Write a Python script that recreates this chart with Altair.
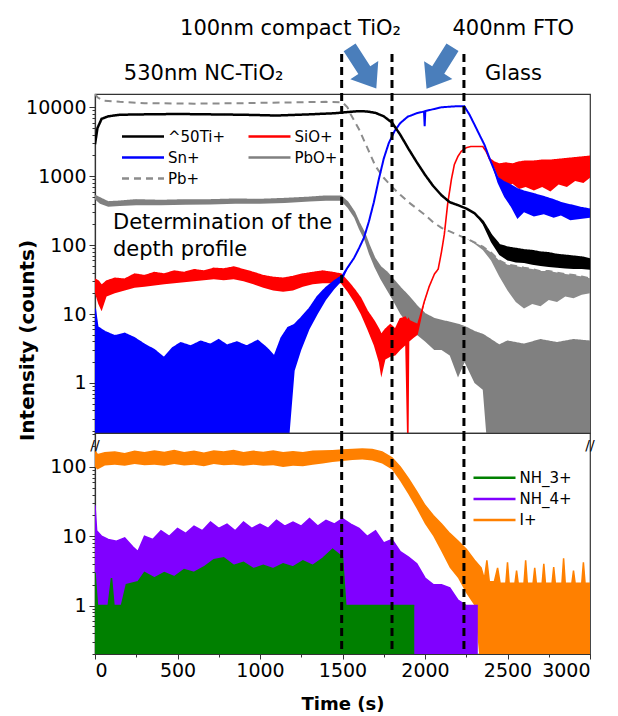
import altair as alt
import pandas as pd

# ---------------- values ----------------
BOUNDARIES = [1495, 1800, 2236]          # dashed interface lines (s)

TOP_SERIES = ["^50Ti+", "SiO+", "Sn+", "PbO+", "Pb+"]          # legend order (row-major, 2 cols)
TOP_COLORS = ["#000000", "#ff0000", "#0000ff", "#808080", "#8c8c8c"]
TOP_DASHES = [[1, 0], [1, 0], [1, 0], [1, 0], [7, 5]]
TOP_DRAW = ["PbO+", "Pb+", "SiO+", "Sn+", "^50Ti+"]            # back to front
TOP_WIDTH = {"PbO+": 2, "Pb+": 2, "SiO+": 1.6, "Sn+": 2, "^50Ti+": 2.5}

BOT_SERIES = ["NH_3+", "NH_4+", "I+"]
BOT_COLORS = ["#008000", "#8000ff", "#ff8000"]
BOT_DRAW = ["I+", "NH_4+", "NH_3+"]

# (time s, upper counts, lower counts)
TI = [(0, 2900, 2900), (15, 5000, 5000), (40, 6800, 6800), (80, 7400, 7400),
      (150, 7800, 7800), (300, 7900, 7900), (500, 8000, 8000), (700, 7900, 7900),
      (900, 7800, 7800), (1100, 7600, 7600), (1300, 7900, 7900), (1450, 8200, 8200),
      (1500, 8400, 8400), (1550, 8600, 8600), (1600, 8800, 8800), (1650, 8700, 8700),
      (1700, 8300, 8300), (1750, 7400, 7400), (1800, 6000, 6000), (1850, 4000, 4000),
      (1900, 2500, 2500), (1950, 1600, 1600), (2000, 1050, 1050), (2050, 720, 720),
      (2100, 530, 530), (2150, 420, 420), (2200, 380, 380), (2250, 340, 340),
      (2300, 290, 290), (2350, 220, 200), (2400, 140, 110), (2450, 100, 72),
      (2500, 92, 60), (2550, 88, 56), (2600, 84, 55), (2650, 82, 52), (2700, 78, 50),
      (2750, 76, 48), (2800, 72, 47), (2850, 70, 46), (2900, 68, 45), (2950, 66, 45),
      (3000, 62, 44)]

SN = [(0, 12, 0.1), (15, 6.5, 0.1), (60, 5.5, 0.1), (120, 4.8, 0.1), (180, 5.2, 0.1),
      (237, 4.5, 0.1), (300, 3.6, 0.1), (360, 3.0, 0.1), (418, 2.3, 0.1), (470, 3.2, 0.1),
      (520, 3.8, 0.1), (580, 3.4, 0.1), (640, 4.0, 0.1), (700, 3.6, 0.1), (750, 4.2, 0.1),
      (800, 3.5, 0.1), (860, 3.9, 0.1), (920, 3.4, 0.1), (986, 4.1, 0.1), (1040, 3.2, 0.1),
      (1087, 2.4, 0.1), (1130, 4.5, 0.1), (1170, 6.3, 0.1), (1210, 7.0, 1.5),
      (1250, 8.8, 3.0), (1300, 12, 6), (1350, 18, 10), (1400, 24, 16), (1450, 30, 23),
      (1500, 36, 31), (1530, 47, 45), (1570, 65, 65), (1600, 90, 90), (1630, 128, 128),
      (1660, 220, 220), (1690, 420, 420), (1720, 900, 900), (1750, 1800, 1800),
      (1780, 3000, 3000), (1815, 4500, 4500), (1850, 5900, 5900), (1895, 7300, 7300),
      (1950, 8200, 8200), (1994, 8700, 8700), (1998, 5300, 5300), (2002, 8800, 8800),
      (2050, 9400, 9400), (2100, 10000, 10000), (2170, 10300, 10300), (2238, 10400, 10400),
      (2270, 7800, 7800), (2300, 5600, 5600), (2330, 4000, 4000), (2360, 2870, 2870),
      (2400, 1600, 1600), (2440, 950, 800), (2480, 820, 500), (2520, 740, 360),
      (2560, 650, 240), (2600, 600, 300), (2660, 550, 260), (2720, 500, 280),
      (2780, 450, 250), (2824, 410, 270), (2880, 380, 230), (2940, 350, 240),
      (3000, 330, 250)]

SIO = [(0, 32, 20), (20, 30, 14), (40, 26, 11), (70, 30, 18), (120, 33, 20), (180, 32, 22),
       (240, 38, 24), (300, 36, 25), (360, 40, 26), (420, 38, 27), (480, 42, 28),
       (540, 40, 29), (600, 44, 30), (660, 42, 31), (720, 46, 32), (780, 45, 31),
       (840, 48, 32), (900, 44, 30), (960, 40, 27), (1020, 36, 24), (1080, 34, 22),
       (1140, 33, 21), (1200, 35, 22), (1260, 38, 25), (1320, 40, 27), (1380, 42, 28),
       (1440, 40, 28), (1490, 38, 28), (1530, 30, 21), (1570, 23, 15), (1610, 17, 10),
       (1650, 11, 6), (1690, 8, 3.5), (1720, 6, 2), (1735, 5, 1.2), (1760, 6, 2.2),
       (1790, 7, 2.4), (1820, 6, 2.5), (1850, 8.5, 3), (1880, 9, 3.5), (1893, 8, 0.1),
       (1900, 8.5, 0.1), (1905, 8, 4), (1930, 7.5, 4.5), (1956, 7, 5), (1975, 10, 8),
       (1995, 15, 14), (2025, 25, 25), (2057, 38, 38), (2080, 45, 45), (2100, 80, 80),
       (2117, 143, 143), (2137, 390, 390), (2160, 900, 900), (2178, 1480, 1480),
       (2200, 1950, 1950), (2220, 2300, 2300), (2250, 2600, 2600), (2280, 2700, 2700),
       (2350, 2700, 2700), (2370, 2300, 2300), (2390, 1800, 1700), (2420, 1600, 1300),
       (2450, 1500, 900), (2490, 1550, 700), (2530, 1500, 780), (2570, 1600, 650),
       (2610, 1650, 700), (2660, 1650, 620), (2710, 1700, 700), (2760, 1700, 600),
       (2810, 1750, 760), (2860, 1800, 700), (2910, 1850, 850), (2960, 1900, 800),
       (3000, 1950, 950)]

PBO = [(0, 520, 460), (30, 480, 400), (80, 420, 360), (150, 430, 370), (250, 450, 380),
       (400, 440, 380), (550, 450, 385), (700, 450, 390), (850, 460, 400), (1000, 455, 400),
       (1150, 470, 410), (1300, 490, 430), (1400, 510, 440), (1490, 510, 440),
       (1530, 420, 350), (1571, 300, 250), (1600, 210, 170), (1632, 150, 120),
       (1660, 100, 75), (1693, 65, 48), (1730, 48, 32), (1770, 40, 22), (1804, 32, 16),
       (1850, 24, 10), (1900, 18, 7), (1950, 13, 5), (2000, 10, 4), (2056, 8.5, 3),
       (2100, 8, 3), (2150, 7.5, 2.5), (2200, 7, 1.2), (2240, 6.5, 2), (2300, 5.5, 1.0),
       (2350, 5, 0.8), (2380, 4.5, 0.1), (2450, 3.5, 0.1), (2500, 4, 0.1), (2600, 3.6, 0.1),
       (2700, 4.2, 0.1), (2800, 3.8, 0.1), (2900, 4.2, 0.1), (3000, 4, 0.1)]

PB = [(0, 15500, 15500), (15, 14000, 14000), (50, 12500, 12500), (150, 12000, 12000),
      (300, 11500, 11500), (600, 11300, 11300), (900, 11500, 11500), (1200, 11800, 11800),
      (1400, 12000, 12000), (1500, 11800, 11800), (1530, 10000, 10000), (1551, 7800, 7800),
      (1600, 4800, 4800), (1650, 2600, 2600), (1700, 1400, 1400), (1750, 950, 950),
      (1800, 700, 700), (1850, 540, 540), (1900, 420, 420), (1950, 340, 340),
      (2000, 275, 275), (2050, 215, 215), (2100, 178, 178), (2150, 158, 158),
      (2200, 140, 140), (2250, 125, 125), (2300, 110, 105), (2350, 95, 85), (2400, 78, 60),
      (2450, 60, 35), (2500, 52, 22), (2550, 50, 15), (2600, 47, 12), (2650, 45, 14),
      (2700, 42, 13), (2750, 42, 16), (2800, 40, 15), (2850, 38, 18), (2900, 37, 17),
      (2950, 35, 19), (3000, 33, 20)]

IP = [(0, 170, 100), (15, 150, 92), (60, 160, 105), (120, 165, 108), (180, 155, 104),
      (240, 168, 110), (300, 160, 106), (360, 170, 108), (420, 162, 104), (480, 172, 110),
      (540, 160, 105), (600, 168, 108), (660, 158, 102), (720, 170, 110), (780, 164, 106),
      (840, 172, 108), (900, 160, 104), (960, 168, 108), (1020, 162, 104), (1080, 170, 106),
      (1140, 160, 100), (1200, 166, 104), (1260, 160, 102), (1320, 168, 108),
      (1380, 170, 112), (1440, 172, 118), (1500, 175, 122), (1560, 178, 126),
      (1620, 182, 128), (1680, 178, 124), (1740, 165, 112), (1800, 135, 92),
      (1850, 100, 62), (1900, 68, 40), (1950, 44, 25), (2000, 28, 15), (2050, 20, 10),
      (2100, 15, 6), (2150, 11, 3.5), (2200, 8.5, 2.5), (2250, 6.5, 1.5), (2300, 4.5, 1.0),
      (2340, 3.5, 0.1), (2360, 2.4, 0.1), (2375, 4.5, 0.1), (2390, 2.2, 0.1),
      (2420, 2.2, 0.1), (2440, 3.5, 0.1), (2455, 2.1, 0.1), (2490, 2.1, 0.1),
      (2500, 4.2, 0.1), (2510, 2.1, 0.1), (2545, 2.1, 0.1), (2555, 3.2, 0.1),
      (2565, 2.1, 0.1), (2600, 2.1, 0.1), (2610, 4.5, 0.1), (2620, 2.1, 0.1),
      (2655, 2.1, 0.1), (2665, 3.5, 0.1), (2675, 2.1, 0.1), (2710, 2.1, 0.1),
      (2720, 4.0, 0.1), (2730, 2.1, 0.1), (2770, 2.1, 0.1), (2780, 3.6, 0.1),
      (2790, 2.1, 0.1), (2830, 2.1, 0.1), (2840, 4.8, 0.1), (2850, 2.1, 0.1),
      (2890, 2.1, 0.1), (2900, 3.2, 0.1), (2910, 2.1, 0.1), (2950, 2.1, 0.1),
      (2960, 4.2, 0.1), (2970, 2.1, 0.1), (3000, 2.1, 0.1)]

NH4 = [(0, 28, 0.1), (10, 12, 0.1), (40, 10, 0.1), (80, 9, 0.1), (130, 8.5, 0.1),
       (180, 9.5, 0.1), (230, 7, 0.1), (260, 6, 0.1), (300, 10, 0.1), (350, 9, 0.1),
       (400, 12, 0.1), (450, 10, 0.1), (500, 13, 0.1), (550, 11, 0.1), (600, 14, 0.1),
       (650, 12, 0.1), (700, 16, 0.1), (750, 13, 0.1), (800, 15, 0.1), (850, 12, 0.1),
       (900, 16, 0.1), (950, 13, 0.1), (1000, 15, 0.1), (1050, 13, 0.1), (1100, 17, 0.1),
       (1150, 14, 0.1), (1200, 16, 0.1), (1250, 14, 0.1), (1300, 18, 0.1), (1350, 14, 0.1),
       (1400, 17, 0.1), (1450, 15, 0.1), (1500, 18, 0.1), (1550, 15, 0.1), (1600, 13, 0.1),
       (1650, 10, 0.1), (1700, 12, 0.1), (1750, 8, 0.1), (1800, 9, 0.1), (1850, 6, 0.1),
       (1900, 5, 0.1), (1950, 4, 0.1), (2000, 2.5, 0.1), (2050, 2, 0.1), (2100, 2, 0.1),
       (2150, 1.8, 0.1), (2200, 1.2, 0.1), (2250, 1, 0.1), (2320, 1, 0.1)]

NH3 = [(0, 3, 0.1), (15, 1, 0.1), (80, 1, 0.1), (100, 2.5, 0.1), (115, 1, 0.1),
       (160, 1, 0.1), (190, 2, 0.1), (260, 2.2, 0.1), (300, 3, 0.1), (360, 2.5, 0.1),
       (420, 3, 0.1), (480, 2.6, 0.1), (540, 3.3, 0.1), (600, 3, 0.1), (660, 3.6, 0.1),
       (720, 4.6, 0.1), (780, 4.9, 0.1), (840, 3.8, 0.1), (900, 4.2, 0.1), (960, 3.4, 0.1),
       (1020, 3.8, 0.1), (1080, 3.4, 0.1), (1140, 4.0, 0.1), (1200, 3.6, 0.1),
       (1260, 4.4, 0.1), (1320, 3.8, 0.1), (1380, 4.8, 0.1), (1440, 6.5, 0.1),
       (1500, 5, 0.1), (1520, 1, 0.1), (1935, 1, 0.1)]

LAYER_TEXT_UPPER = ["100nm compact TiO₂", "400nm FTO"]
LAYER_T_UPPER = [1185, 2535]
LAYER_TEXT_LOWER = ["530nm NC-TiO₂", "Glass"]
LAYER_T_LOWER = [658, 2536]
ARROW_T = [1624, 2088]
ARROW_ANGLE = [327, 32]
NOTE = "Determination of the\ndepth profile"

# ---------------- build ----------------
def frame(rows, name):
    return pd.DataFrame([{"series": name, "t": t, "hi": hi, "lo": lo} for t, hi, lo in rows])

top_df = pd.concat([frame(TI, "^50Ti+"), frame(SIO, "SiO+"), frame(SN, "Sn+"),
                    frame(PBO, "PbO+"), frame(PB, "Pb+")], ignore_index=True)
bot_df = pd.concat([frame(NH3, "NH_3+"), frame(NH4, "NH_4+"), frame(IP, "I+")],
                   ignore_index=True)

W, H_TOP, H_BOT = 495, 339, 221
FONT = "DejaVu Sans"
X_SCALE = alt.Scale(domain=[0, 3000], nice=False, zero=False)
Y_TOP = alt.Scale(type="log", domain=[0.188, 15600], nice=False)
Y_BOT = alt.Scale(type="log", domain=[0.2, 309], nice=False)

MAJOR = "abs(log(datum.value)/LN10 - round(log(datum.value)/LN10)) < 0.001"
TOP_TICKS = [m * 10 ** e for e in range(-1, 5) for m in range(1, 10) if 0.188 <= m * 10 ** e <= 15600]
BOT_TICKS = [m * 10 ** e for e in range(-1, 3) for m in range(1, 10) if 0.2 <= m * 10 ** e <= 309]
X_TICKS = list(range(0, 3001, 250))


def y_axis(values, title=None):
    kw = dict(values=values, labelExpr=f"({MAJOR}) ? format(datum.value, 'd') : ''",
              tickSize={"condition": {"test": MAJOR, "value": 6}, "value": 3},
              labelOverlap=False, labelFlush=False, grid=False, labelPadding=3)
    if title:
        kw.update(title=title, titleX=-68, titleY=246, titleAngle=270, titleAlign="center",
                  titleBaseline="middle", titleFont=FONT, titleFontSize=20, titleFontWeight="bold")
    else:
        kw.update(title=None)
    return alt.Axis(**kw)


TOP_Y_AXIS = y_axis(TOP_TICKS, "Intensity (counts)")
BOT_Y_AXIS = y_axis(BOT_TICKS)
TOP_X_AXIS = alt.Axis(labels=False, ticks=False, domain=False, title=None, grid=False)
BOT_X_AXIS = alt.Axis(values=X_TICKS, title="Time (s)", grid=False,
                      labelExpr="datum.value % 500 == 0 ? format(datum.value, 'd') : ''",
                      tickSize={"condition": {"test": "datum.value % 500 == 0", "value": 5}, "value": 3},
                      labelOverlap=False, labelPadding=2, titleFont=FONT, titleFontSize=18,
                      titleFontWeight="bold", titlePadding=15)

top_color = alt.Scale(domain=TOP_SERIES, range=TOP_COLORS)
top_dash = alt.Scale(domain=TOP_SERIES, range=TOP_DASHES)
bot_color = alt.Scale(domain=BOT_SERIES, range=BOT_COLORS)


def series_layers(df, order, xaxis, yscale, yaxis, cscale, dscale=None, widths=None):
    out = []
    for name in order:
        base = alt.Chart(df).transform_filter(alt.datum.series == name)
        x = alt.X("t:Q", scale=X_SCALE, axis=xaxis)
        col = alt.Color("series:N", scale=cscale, legend=None)
        area = base.mark_area(clip=True, opacity=1).encode(
            x=x, y=alt.Y("lo:Q", scale=yscale, axis=yaxis), y2="hi:Q", color=col)
        enc = dict(x=x, y=alt.Y("hi:Q", scale=yscale, axis=yaxis), color=col)
        if dscale is not None:
            enc["strokeDash"] = alt.StrokeDash("series:N", scale=dscale, legend=None)
        sw = widths[name] if widths else 1.5
        line = base.mark_line(clip=True, strokeWidth=sw).encode(**enc)
        out += [area, line]
    return out


def legend_layers(names, cscale, dscale, x_start, col_step, y_start, row_step, ncols):
    rows = []
    for i, n in enumerate(names):
        c, r = i % ncols, i // ncols
        x0 = x_start + c * col_step
        rows.append({"series": n, "x0": x0, "x1": x0 + 42, "xt": x0 + 46,
                     "y": y_start + r * row_step})
    ldf = pd.DataFrame(rows)
    enc = dict(x=alt.X("x0:Q", scale=None, axis=None), x2="x1:Q",
               y=alt.Y("y:Q", scale=None, axis=None),
               color=alt.Color("series:N", scale=cscale, legend=None))
    if dscale is not None:
        enc["strokeDash"] = alt.StrokeDash("series:N", scale=dscale, legend=None)
    sym = alt.Chart(ldf).mark_rule(strokeWidth=2.5).encode(**enc)
    lab = alt.Chart(ldf).mark_text(font=FONT, fontSize=15, color="black", align="left",
                                   baseline="middle").encode(
        x=alt.X("xt:Q", scale=None, axis=None), y=alt.Y("y:Q", scale=None, axis=None),
        text="series:N")
    return [sym, lab]


bdf = pd.DataFrame({"t": BOUNDARIES})

# ---- top panel ----
top_layers = series_layers(top_df, TOP_DRAW, TOP_X_AXIS, Y_TOP, TOP_Y_AXIS,
                           top_color, top_dash, TOP_WIDTH)
top_leg = legend_layers(TOP_SERIES, top_color, top_dash, 27, 126.5, 42.5, 21, 2)
top_rules = alt.Chart(bdf).mark_rule(color="black", strokeWidth=3, strokeDash=[8, 5]).encode(
    x=alt.X("t:Q", scale=X_SCALE, axis=TOP_X_AXIS), y=alt.value(-40), y2=alt.value(H_TOP))
up_txt = alt.Chart(pd.DataFrame({"t": LAYER_T_UPPER, "label": LAYER_TEXT_UPPER})).mark_text(
    font=FONT, fontSize=21, color="black", baseline="middle", align="center").encode(
    x=alt.X("t:Q", scale=X_SCALE, axis=TOP_X_AXIS), y=alt.value(-65), text="label:N")
lo_txt = alt.Chart(pd.DataFrame({"t": LAYER_T_LOWER, "label": LAYER_TEXT_LOWER})).mark_text(
    font=FONT, fontSize=21, color="black", baseline="middle", align="center").encode(
    x=alt.X("t:Q", scale=X_SCALE, axis=TOP_X_AXIS), y=alt.value(-20), text="label:N")
ARROW_PATH = "M -0.29 -1 L 0.29 -1 L 0.29 0.1 L 0.68 0.1 L 0 1 L -0.68 0.1 L -0.29 0.1 Z"
arrows = alt.Chart(pd.DataFrame({"t": ARROW_T, "ang": ARROW_ANGLE})).mark_point(
    shape=ARROW_PATH, filled=True, color="#4a7ebb", opacity=1, size=2401, strokeWidth=0).encode(
    x=alt.X("t:Q", scale=X_SCALE, axis=TOP_X_AXIS), y=alt.value(-26),
    angle=alt.Angle("ang:Q", scale=None))
note = alt.Chart(pd.DataFrame({"label": [NOTE]})).mark_text(
    font=FONT, fontSize=21, color="black", align="left", baseline="top",
    lineBreak="\n", lineHeight=27).encode(x=alt.value(18), y=alt.value(118), text="label:N")

top = alt.layer(*top_layers, top_rules, *top_leg, up_txt, lo_txt, arrows, note).properties(
    width=W, height=H_TOP)

# ---- bottom panel ----
bot_layers = series_layers(bot_df, BOT_DRAW, BOT_X_AXIS, Y_BOT, BOT_Y_AXIS, bot_color)
bot_leg = legend_layers(BOT_SERIES, bot_color, None, 378.5, 0, 44.7, 21.2, 1)
bot_rules = alt.Chart(bdf).mark_rule(color="black", strokeWidth=3, strokeDash=[8, 5]).encode(
    x=alt.X("t:Q", scale=X_SCALE, axis=BOT_X_AXIS), y=alt.value(0), y2=alt.value(H_BOT))
brk = alt.Chart(pd.DataFrame({"t": [0, 3000], "label": ["//", "//"]})).mark_text(
    font=FONT, fontSize=14, color="black", align="center", baseline="middle").encode(
    x=alt.X("t:Q", scale=X_SCALE, axis=BOT_X_AXIS), y=alt.value(13), text="label:N")
bottom = alt.layer(*bot_layers, bot_rules, *bot_leg, brk).properties(width=W, height=H_BOT)

chart = (alt.vconcat(top, bottom, spacing=0, bounds="flush")
         .resolve_scale(color="independent", strokeDash="independent", y="independent")
         .properties(padding={"left": 8, "top": 9, "right": 5, "bottom": 0}, background="white")
         .configure_view(stroke="#333333", strokeWidth=1.2)
         .configure_axis(labelFont=FONT, labelFontSize=19, labelColor="black",
                         tickColor="#333333", domainColor="#333333", domainWidth=1.2))

chart.save("out.html", embed_options={"renderer": "svg", "actions": False})
